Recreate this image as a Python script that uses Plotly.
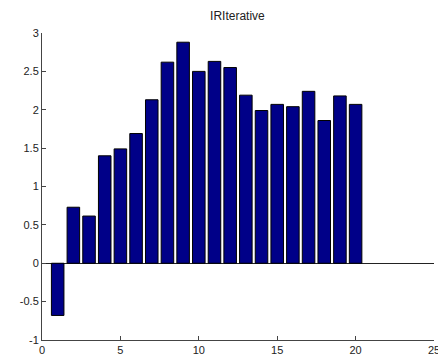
import plotly.graph_objects as go

# Impulse response values per lag
lags = list(range(1, 21))
response = [-0.68, 0.73, 0.615, 1.40, 1.49, 1.69, 2.13, 2.62, 2.88, 2.50,
            2.63, 2.55, 2.19, 1.99, 2.07, 2.04, 2.24, 1.86, 2.18, 2.07]

x_ticks = [0, 5, 10, 15, 20, 25]
y_ticks = [-1, -0.5, 0, 0.5, 1, 1.5, 2, 2.5, 3]
y_tick_text = ["-1", "-0.5", "0", "0.5", "1", "1.5", "2", "2.5", "3"]

fig = go.Figure(
    go.Bar(
        x=lags,
        y=response,
        width=0.8,
        marker=dict(color="#000088", line=dict(color="#000000", width=1)),
    )
)

axis_font = dict(family="Liberation Sans, Arial, sans-serif", size=11, color="#222222")

fig.update_layout(
    width=438,
    height=358,
    margin=dict(l=42, r=4, t=33, b=18),
    paper_bgcolor="white",
    plot_bgcolor="white",
    showlegend=False,
    title=dict(
        text="IRIterative",
        x=0.542,
        xanchor="center",
        y=0.955,
        yanchor="middle",
        font=dict(family="Liberation Sans, Arial, sans-serif", size=12, color="#222222"),
    ),
    xaxis=dict(
        range=[0, 25],
        tickvals=x_ticks,
        ticks="inside",
        ticklen=4,
        tickcolor="#444444",
        showgrid=False,
        zeroline=False,
        showline=True,
        linecolor="#444444",
        linewidth=1,
        tickfont=axis_font,
        ticklabeloverflow="allow",
        automargin=False,
    ),
    yaxis=dict(
        range=[-1, 3],
        tickvals=y_ticks,
        ticktext=y_tick_text,
        ticks="inside",
        ticklen=4,
        tickcolor="#444444",
        showgrid=False,
        zeroline=True,
        zerolinecolor="#222222",
        zerolinewidth=1,
        showline=True,
        linecolor="#444444",
        linewidth=1,
        tickfont=axis_font,
        automargin=False,
    ),
)

fig.write_html("out.html")
